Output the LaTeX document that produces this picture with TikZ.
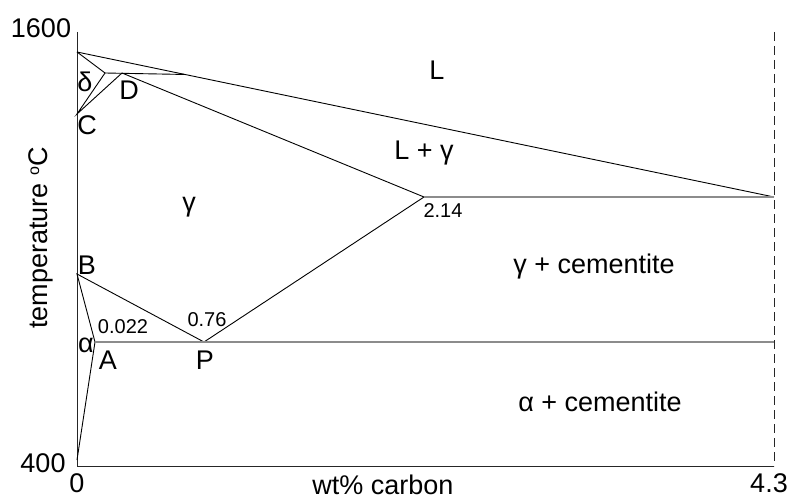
\documentclass[tikz,border=0pt]{standalone}
\usepackage{fontspec}
\setmainfont{Liberation Sans}
\usetikzlibrary{calc}
\begin{document}
\begin{tikzpicture}
  [
    x                   = 1pt,
    y                   = -1pt,
    every node/.style   = {font=\fontsize{27}{31}\selectfont, inner sep=0pt},
    small/.style        = {font=\fontsize{20}{24}\selectfont},
    boundary/.style     = {draw, line width=0.9pt},
    isotherm/.style     = {draw=black!45, line width=1.3pt},
    axis/.style         = {draw=black!85, line width=1pt}
  ]
  \useasboundingbox (0,0) rectangle (790,500);
  % axes
  \coordinate (top)  at (77,32);
  \coordinate (O)    at (77,466);
  \coordinate (xend) at (774,466);
  \coordinate (dtop) at (774,32);
  % points of the diagram
  \coordinate (melt) at (77,52);
  \coordinate (d1)   at (105,73);
  \coordinate (D)    at (122,73);
  \coordinate (C)    at (77,114);
  \coordinate (E)    at (424,197);
  \coordinate (Er)   at (774,197);
  \coordinate (peri) at ($(melt)!0.155!(Er)$);
  \coordinate (B)    at (77,274);
  \coordinate (A)    at (95,342);
  \coordinate (P)    at (204,342);
  \coordinate (Pr)   at (774,342);
  \coordinate (low)  at (77,460);

  \path[axis] (top) -- (O) -- (xend);
  \path[axis, dash pattern=on 9pt off 5pt] (dtop) -- (xend);

  % phase boundaries
  \path[boundary] (melt) -- (Er);
  \path[boundary] (melt) -- (d1) -- (C) -- (D);
  \path[boundary] (d1) -- (peri);
  \path[boundary] (D) -- (E) -- (P) -- (B) -- (A) -- (low);
  \path[isotherm] (E) -- (Er);
  \path[isotherm] (A) -- (Pr);

  % axis labels
  \node (t1600) at (41,28)  {1600};
  \node (t400)  at (43,463) {400};
  \node (c0)    at (77,483) {0};
  \node (c43)   at (769,483) {4.3};
  \node (xlab)  at (383,485) {wt\% carbon};
  \node[rotate=90] (ylab) at (41,238) {temperature \raisebox{0.6ex}{\fontsize{16}{18}\selectfont o}C};

  % region and point labels
  \node (ldelta) at (85,82)   {δ};
  \node (lD)     at (129,90)  {D};
  \node (lC)     at (87,125)  {C};
  \node (lL)     at (437,70)  {L};
  \node (lLg)    at (424,153) {L + γ};
  \node (lg)     at (189,207) {γ};
  \node[small] (n214) at (443,211) {2.14};
  \node (lgc)    at (594,267) {γ + cementite};
  \node (lB)     at (87,265)  {B};
  \node[small] (n0022) at (123,327) {0.022};
  \node[small] (n076)  at (207,320) {0.76};
  \node (lalpha) at (86,345)  {α};
  \node (lA)     at (108,360) {A};
  \node (lP)     at (205,360) {P};
  \node (lac)    at (600,402) {α + cementite};
\end{tikzpicture}
\end{document}
